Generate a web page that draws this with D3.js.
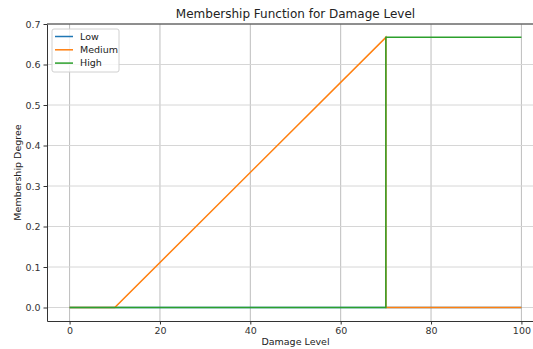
<!DOCTYPE html>
<html>
<head>
<meta charset="utf-8">
<script src="https://cdn.jsdelivr.net/npm/d3@7"></script>
<style>
  body { margin: 0; background: #fff; }
  svg { display: block; font-family: "DejaVu Sans", sans-serif; }
</style>
</head>
<body>
<svg id="chart"></svg>
<script>
// damage level sample points and membership degrees
const damage = [0, 10, 70, 70, 100];
const low = [0, 0, 0, 0, 0];
const medium = [0, 0, 0.667, 0, 0];
const high = [0, 0, 0, 0.667, 0.667];
const seriesNames = ["Low", "Medium", "High"];
const colors = ["#1f77b4", "#ff7f0e", "#2ca02c"];
const xTicks = [0, 20, 40, 60, 80, 100];
const yTicks = [0, 0.1, 0.2, 0.3, 0.4, 0.5, 0.6, 0.7];

const width = 533;
const height = 349;
const margin = { left: 47, top: 24, right: -11, bottom: 28 };

let svg = d3.select("#chart").attr("width", width).attr("height", height);

let x = d3.scaleLinear().domain([-5, 105]).range([margin.left, width - margin.right]);
let y = d3.scaleLinear().domain([-0.0333, 0.7]).range([height - margin.bottom, margin.top]);

// grid
svg.append("g")
  .selectAll("line")
  .data(xTicks)
  .enter()
  .append("line")
  .attr("x1", (d) => x(d)).attr("x2", (d) => x(d))
  .attr("y1", y.range()[1]).attr("y2", y.range()[0])
  .attr("stroke", "#bdbdbd").attr("stroke-width", 1);

svg.append("g")
  .selectAll("line")
  .data(yTicks)
  .enter()
  .append("line")
  .attr("x1", x.range()[0]).attr("x2", x.range()[1])
  .attr("y1", (d) => y(d)).attr("y2", (d) => y(d))
  .attr("stroke", "#d6d6d6").attr("stroke-width", 1);

// lines
let allSeries = [low, medium, high];
let line = d3.line().x((d) => x(d[0])).y((d) => y(d[1]));

allSeries.forEach((vals, i) => {
  svg.append("path")
    .datum(damage.map((d, j) => [d, vals[j]]))
    .attr("d", line)
    .attr("fill", "none")
    .attr("stroke", colors[i])
    .attr("stroke-width", 1.5);
});

// axes
let xAxis = svg.append("g")
  .attr("transform", "translate(0," + y.range()[0] + ")")
  .call(d3.axisBottom(x).tickValues(xTicks).tickFormat(d3.format("d")).tickSize(3.5).tickSizeOuter(0).tickPadding(3));

let yAxis = svg.append("g")
  .attr("transform", "translate(" + x.range()[0] + ",0)")
  .call(d3.axisLeft(y).tickValues(yTicks).tickFormat(d3.format(".1f")).tickSize(3.5).tickSizeOuter(0).tickPadding(3));

[xAxis, yAxis].forEach((a) => {
  a.selectAll("text").attr("font-size", 9.5).attr("fill", "#333").attr("font-family", "DejaVu Sans");
  a.selectAll("line").attr("stroke", "#333");
  a.select(".domain").attr("stroke", "#333");
});

// top spine
svg.append("line")
  .attr("x1", x.range()[0]).attr("x2", x.range()[1])
  .attr("y1", y.range()[1]).attr("y2", y.range()[1])
  .attr("stroke", "#333");

// title and labels
svg.append("text")
  .attr("x", (x.range()[0] + x.range()[1]) / 2)
  .attr("y", 18)
  .attr("text-anchor", "middle")
  .attr("font-size", 12)
  .attr("fill", "#222")
  .text("Membership Function for Damage Level");

svg.append("text")
  .attr("x", (x.range()[0] + x.range()[1]) / 2)
  .attr("y", 345)
  .attr("text-anchor", "middle")
  .attr("font-size", 9.5)
  .attr("fill", "#222")
  .text("Damage Level");

svg.append("text")
  .attr("transform", "translate(21," + (y.range()[0] + y.range()[1]) / 2 + ") rotate(-90)")
  .attr("text-anchor", "middle")
  .attr("font-size", 9.5)
  .attr("fill", "#222")
  .text("Membership Degree");

// legend
let legend = svg.append("g").attr("transform", "translate(52,29)");
legend.append("rect")
  .attr("width", 67).attr("height", 43).attr("rx", 2)
  .attr("fill", "#fff").attr("fill-opacity", 0.8)
  .attr("stroke", "#d0d0d0");

seriesNames.forEach((name, i) => {
  let row = legend.append("g").attr("transform", "translate(0," + (7.5 + i * 13.3) + ")");
  row.append("line")
    .attr("x1", 3).attr("x2", 21)
    .attr("stroke", colors[i]).attr("stroke-width", 1.5);
  row.append("text")
    .attr("x", 28).attr("y", 3.3)
    .attr("font-size", 9.5)
    .attr("fill", "#222")
    .text(name);
});
</script>
</body>
</html>
